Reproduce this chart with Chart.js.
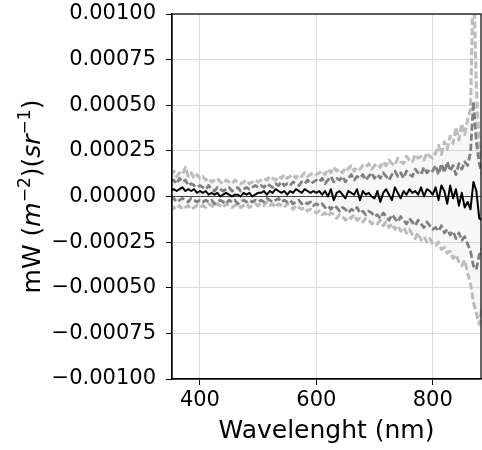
<!DOCTYPE html>
<html>
<head>
<meta charset="utf-8">
<script src="https://cdn.jsdelivr.net/npm/chart.js@4/dist/chart.umd.min.js"></script>
<style>
  html, body { margin: 0; padding: 0; background: #fff; }
  canvas { display: block; }
</style>
</head>
<body>
<canvas id="chart" width="482" height="450"></canvas>
<script>
// values, in units of 1e-5 mW m^-2 sr^-1
const UNIT = 1e-5;

const wavelengths = [
  350, 355, 360, 365, 370, 375, 380, 385, 390, 395, 400,
  405, 410, 415, 420, 425, 430, 435, 440, 445, 450, 455, 460, 465, 470, 475, 480, 485, 490, 495, 500,
  505, 510, 515, 520, 525, 530, 535, 540, 545, 550, 555, 560, 565, 570, 575, 580, 585, 590, 595, 600,
  605, 610, 615, 620, 625, 630, 635, 640, 645, 650, 655, 660, 665, 670, 675, 680, 685, 690, 695, 700,
  705, 710, 715, 720, 725, 730, 735, 740, 745, 750, 755, 760, 765, 770, 775, 780, 785, 790, 795, 800,
  805, 810, 815, 820, 825, 830, 835, 840, 845, 850, 855, 860, 865, 870, 875, 880, 885
];

const meanValues = [
  3, 4, 3, 4, 5, 3, 4, 3, 4, 2, 3,
  2, 3, 1, 2, 1, 2, 0, 1, 2, 1, 0, 1, 1, 0, 2, 1, 2, 0, 1, 2,
  2, 3, 1, 3, 2, 4, 3, 2, 3, 1, 3, 2, 4, 3, 2, 4, 3, 2, 3, 2,
  3, 1, 3, 0, 4, -2, 2, 3, 1, -1, 3, 2, 1, 4, -2, 3, 1, 2, 0, -1,
  3, -3, 2, 4, 1, -2, 5, 2, -1, 3, 1, 4, 2, 3, 1, 5, 0, 4, 3, 1,
  5, -2, 6, 3, -4, 6, -1, 4, -5, 2, -6, -3, -7, 8, 3, -12, -13
];

const upperDark = [
  8, 9, 7, 10, 8, 9, 6, 7, 6, 5, 6,
  5, 4, 6, 4, 3, 5, 4, 3, 4, 5, 3, 4, 5, 3, 4, 5, 4, 5, 6, 5,
  6, 5, 7, 6, 5, 7, 6, 8, 6, 7, 6, 8, 7, 6, 8, 7, 9, 7, 8, 9,
  8, 10, 7, 9, 11, 8, 10, 9, 11, 8, 10, 12, 9, 11, 10, 12, 9, 11, 13, 10,
  12, 10, 13, 11, 9, 12, 14, 11, 13, 10, 14, 12, 11, 15, 13, 12, 16, 13, 15, 14,
  17, 12, 18, 13, 19, 14, 17, 12, 18, 15, 19, 17, 24, 52, 30, 18, 12
];

const lowerDark = [
  -2, -1, -3, -2, -1, -2, -3, -1, -2, -3, -2,
  -3, -2, -3, -2, -4, -3, -2, -3, -4, -2, -3, -2, -4, -3, -2, -3, -2, -3, -2, -3,
  -2, -3, -1, -2, -3, -2, -1, -3, -2, -3, -2, -4, -3, -2, -4, -3, -4, -3, -5, -4,
  -5, -4, -6, -5, -7, -5, -6, -8, -6, -7, -9, -7, -8, -6, -9, -8, -10, -8, -9, -11,
  -10, -12, -9, -11, -13, -10, -12, -14, -11, -13, -15, -12, -14, -16, -13, -15, -17, -14, -16, -18,
  -17, -19, -16, -20, -18, -21, -19, -23, -20, -24, -22, -26, -30, -38, -40, -32, -28
];

const upperLight = [
  12, 14, 11, 13, 12, 16, 11, 13, 10, 12, 10,
  11, 9, 10, 8, 9, 10, 8, 7, 9, 8, 7, 9, 8, 7, 8, 9, 7, 8, 9, 8,
  9, 10, 9, 11, 10, 9, 11, 10, 12, 10, 11, 12, 10, 12, 11, 13, 11, 12, 13, 12,
  13, 14, 12, 15, 13, 16, 14, 15, 13, 16, 15, 17, 14, 16, 15, 17, 16, 18, 15, 17,
  18, 16, 19, 17, 20, 18, 17, 21, 19, 18, 22, 20, 19, 23, 21, 22, 20, 24, 22, 21,
  24, 28, 23, 30, 26, 33, 29, 38, 31, 40, 34, 42, 48, 125, 60, 28, 15
];

const lowerLight = [
  -8, -6, -7, -5, -7, -6, -5, -7, -6, -5, -6,
  -5, -6, -4, -5, -6, -4, -5, -6, -4, -5, -6, -5, -4, -6, -5, -4, -6, -5, -4, -5,
  -4, -5, -3, -5, -4, -6, -4, -5, -6, -4, -5, -7, -5, -6, -7, -6, -8, -7, -8, -9,
  -8, -10, -9, -11, -9, -10, -12, -10, -11, -13, -11, -12, -10, -13, -12, -14, -12, -13, -15, -14,
  -15, -13, -16, -14, -17, -15, -18, -16, -19, -17, -20, -18, -21, -23, -20, -24, -22, -25, -23, -26,
  -27, -25, -29, -28, -31, -30, -34, -32, -36, -38, -35, -42, -48, -58, -64, -70, -60
];

const xTicks = [400, 600, 800];
const yTicks = [-0.001, -0.00075, -0.0005, -0.00025, 0, 0.00025, 0.0005, 0.00075, 0.001];
const xTitle = 'Wavelenght (nm)';

const FONT = "'DejaVu Sans', sans-serif";

function toPoints(values) {
  return values.map((v, i) => ({ x: wavelengths[i], y: v * UNIT }));
}

// y-axis title with mathtext-like pieces: mW (m^-2)(sr^-1)
const yTitleParts = [
  { text: 'mW (', style: 'normal', sup: false },
  { text: 'm', style: 'italic', sup: false },
  { text: '\u22122', style: 'normal', sup: true },
  { text: ')(', style: 'normal', sup: false },
  { text: 'sr', style: 'italic', sup: false },
  { text: '\u22121', style: 'normal', sup: true },
  { text: ')', style: 'normal', sup: false },
];

const framePlugin = {
  id: 'frame',
  beforeDatasetsDraw(chart) {
    const { ctx, chartArea, scales } = chart;
    const y0 = scales.y.getPixelForValue(0);
    ctx.save();
    ctx.strokeStyle = '#444';
    ctx.lineWidth = 1;
    ctx.beginPath();
    ctx.moveTo(chartArea.left, y0);
    ctx.lineTo(chartArea.right, y0);
    ctx.stroke();
    ctx.restore();
  },
  afterDraw(chart) {
    const { ctx, chartArea } = chart;
    ctx.save();
    // top and right spines
    ctx.strokeStyle = '#000';
    ctx.lineWidth = 1.2;
    ctx.strokeRect(chartArea.left, chartArea.top, chartArea.right - chartArea.left, chartArea.bottom - chartArea.top);

    // y title
    const size = 25;
    const supSize = 17;
    let total = 0;
    const widths = yTitleParts.map(p => {
      ctx.font = `${p.style} ${p.sup ? supSize : size}px ${FONT}`;
      const w = ctx.measureText(p.text).width;
      total += w;
      return w;
    });
    ctx.translate(40, (chartArea.top + chartArea.bottom) / 2);
    ctx.rotate(-Math.PI / 2);
    ctx.fillStyle = '#000';
    ctx.textBaseline = 'alphabetic';
    ctx.textAlign = 'left';
    let x = -total / 2;
    yTitleParts.forEach((p, i) => {
      ctx.font = `${p.style} ${p.sup ? supSize : size}px ${FONT}`;
      ctx.fillText(p.text, x, p.sup ? -10 : 0);
      x += widths[i];
    });
    ctx.restore();
  }
};

Chart.defaults.font.family = FONT;
Chart.defaults.color = '#000';

new Chart(document.getElementById('chart'), {
  type: 'line',
  data: {
    datasets: [
      {
        label: 'mean',
        data: toPoints(meanValues),
        borderColor: '#000',
        borderWidth: 2,
        order: 0,
      },
      {
        label: '+1 std',
        data: toPoints(upperDark),
        borderColor: '#808080',
        borderWidth: 2.8,
        borderDash: [7, 3],
        order: 1,
      },
      {
        label: '-1 std',
        data: toPoints(lowerDark),
        borderColor: '#808080',
        borderWidth: 2.8,
        borderDash: [7, 3],
        order: 1,
      },
      {
        label: '+2 std',
        data: toPoints(upperLight),
        borderColor: '#bdbdbd',
        borderWidth: 3,
        borderDash: [7, 3],
        backgroundColor: 'rgba(150, 150, 150, 0.08)',
        fill: '+1',
        order: 2,
      },
      {
        label: '-2 std',
        data: toPoints(lowerLight),
        borderColor: '#bdbdbd',
        borderWidth: 3,
        borderDash: [7, 3],
        order: 2,
      },
    ],
  },
  options: {
    responsive: false,
    animation: false,
    events: [],
    devicePixelRatio: 1,
    layout: { padding: { top: 14, right: 1, left: 0, bottom: 0 } },
    elements: {
      point: { radius: 0 },
      line: { tension: 0, borderJoinStyle: 'round' },
    },
    plugins: {
      legend: { display: false },
      tooltip: { enabled: false },
    },
    scales: {
      x: {
        type: 'linear',
        min: 352,
        max: 883,
        afterFit(scale) { scale.height = 71; scale.paddingLeft = 0; scale.paddingRight = 0; },
        afterBuildTicks(scale) { scale.ticks = xTicks.map(v => ({ value: v })); },
        grid: { color: '#dcdcdc', lineWidth: 1, tickColor: '#000', tickLength: 6 },
        border: { color: '#000', width: 1.2 },
        ticks: { font: { size: 21 }, padding: 3, maxRotation: 0, callback: v => String(v) },
        title: { display: true, text: xTitle, font: { size: 25 }, padding: { top: 0 } },
      },
      y: {
        type: 'linear',
        min: -0.001,
        max: 0.001,
        afterFit(scale) { scale.width = 172; scale.paddingTop = 0; scale.paddingBottom = 0; },
        afterBuildTicks(scale) { scale.ticks = yTicks.map(v => ({ value: v })); },
        grid: { color: '#dcdcdc', lineWidth: 1, tickColor: '#000', tickLength: 6 },
        border: { color: '#000', width: 1.2 },
        ticks: {
          font: { size: 21 },
          padding: 10,
          callback: v => v.toFixed(5).replace('-', '\u2212'),
        },
      },
    },
  },
  plugins: [framePlugin],
});
</script>
</body>
</html>
